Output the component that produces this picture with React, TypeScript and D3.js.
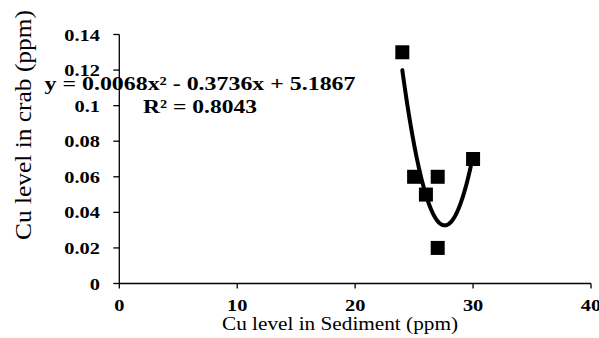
import React from "react";
import * as d3 from "d3";

// Cu in sediment (ppm) vs Cu in crab (ppm)
const sedimentCu = [24, 25, 26, 27, 27, 30];
const crabCu = [0.13, 0.06, 0.05, 0.06, 0.02, 0.07];
const xTicks = [0, 10, 20, 30, 40];
const yTicks = [0, 0.02, 0.04, 0.06, 0.08, 0.1, 0.12, 0.14];
const equationLabel = "y = 0.0068x² - 0.3736x + 5.1867";
const r2Label = "R² = 0.8043";

const W = 599;
const H = 338;

// least squares quadratic fit (the Excel trendline)
function fitQuadratic(xs: number[], ys: number[]) {
  const s = (f: (x: number, y: number) => number) =>
    xs.reduce((acc, x, i) => acc + f(x, ys[i]), 0);
  const n = xs.length;
  const A = [
    [n, s((x) => x), s((x) => x * x)],
    [s((x) => x), s((x) => x * x), s((x) => x ** 3)],
    [s((x) => x * x), s((x) => x ** 3), s((x) => x ** 4)],
  ];
  const b = [s((x, y) => y), s((x, y) => x * y), s((x, y) => x * x * y)];
  for (let i = 0; i < 3; i++) {
    for (let j = i + 1; j < 3; j++) {
      const f = A[j][i] / A[i][i];
      for (let k = i; k < 3; k++) A[j][k] -= f * A[i][k];
      b[j] -= f * b[i];
    }
  }
  const c = [0, 0, 0];
  for (let i = 2; i >= 0; i--) {
    let v = b[i];
    for (let k = i + 1; k < 3; k++) v -= A[i][k] * c[k];
    c[i] = v / A[i][i];
  }
  return (x: number) => c[0] + c[1] * x + c[2] * x * x;
}

const x = d3.scaleLinear().domain([0, 40]).range([119.3, 591]);
const y = d3.scaleLinear().domain([0, 0.14]).range([283.5, 34.5]);
const sx = 1.2; // text in the source is a bit wide
const ms = 14; // marker size

const fit = fitQuadratic(sedimentCu, crabCu);
const fitXs = d3.range(d3.min(sedimentCu)!, d3.max(sedimentCu)! + 0.001, 0.05);
const fitPath = d3
  .line<number>()
  .x((d) => x(d))
  .y((d) => y(fit(d)))(fitXs);

const serif: React.CSSProperties = { fontFamily: "Liberation Serif" };
const boldSerif: React.CSSProperties = { fontFamily: "Liberation Serif", fontWeight: "bold" };

const App: React.FC = () => (
  <svg
    width={W}
    height={H}
    style={{ position: "absolute", left: 0, top: 0, background: "#fff" }}
  >
    {/* axes */}
    <line x1={x(0)} x2={x(40)} y1={y(0)} y2={y(0)} stroke="#000" strokeWidth={1.3} />
    <line x1={x(0)} x2={x(0)} y1={y(0)} y2={y(0.14)} stroke="#000" strokeWidth={1.3} />

    {xTicks.map((d) => (
      <g key={"x" + d}>
        <line x1={x(d)} x2={x(d)} y1={y(0)} y2={y(0) + 5} stroke="#000" strokeWidth={1.3} />
        <text
          transform={`translate(${x(d)},311) scale(${sx},1)`}
          textAnchor="middle"
          style={{ ...boldSerif, fontSize: 17 }}
        >
          {d}
        </text>
      </g>
    ))}

    {yTicks.map((d) => (
      <g key={"y" + d}>
        <line x1={x(0) - 6} x2={x(0)} y1={y(d)} y2={y(d)} stroke="#000" strokeWidth={1.3} />
        <text
          transform={`translate(100,${y(d) + 6}) scale(${sx},1)`}
          textAnchor="end"
          style={{ ...boldSerif, fontSize: 17 }}
        >
          {d}
        </text>
      </g>
    ))}

    {/* axis titles */}
    <text
      transform="translate(31,125) rotate(-90)"
      textAnchor="middle"
      textLength={230}
      lengthAdjust="spacingAndGlyphs"
      style={{ ...serif, fontSize: 23 }}
    >
      Cu level in crab (ppm)
    </text>
    <text
      x={340}
      y={330}
      textAnchor="middle"
      textLength={236}
      lengthAdjust="spacingAndGlyphs"
      style={{ ...serif, fontSize: 18 }}
    >
      Cu level in Sediment (ppm)
    </text>

    {/* trendline */}
    <path d={fitPath || ""} fill="none" stroke="#000" strokeWidth={4} strokeLinecap="round" />

    {/* markers */}
    {sedimentCu.map((d, i) => (
      <rect
        key={"p" + i}
        x={x(d) - ms / 2}
        y={y(crabCu[i]) - ms / 2}
        width={ms}
        height={ms}
        fill="#000"
      />
    ))}

    {/* equation labels */}
    <text
      x={200}
      y={90}
      textAnchor="middle"
      textLength={311}
      lengthAdjust="spacingAndGlyphs"
      style={{ ...boldSerif, fontSize: 19 }}
    >
      {equationLabel}
    </text>
    <text
      x={200}
      y={113}
      textAnchor="middle"
      textLength={114}
      lengthAdjust="spacingAndGlyphs"
      style={{ ...boldSerif, fontSize: 19 }}
    >
      {r2Label}
    </text>
  </svg>
);

export default App;
